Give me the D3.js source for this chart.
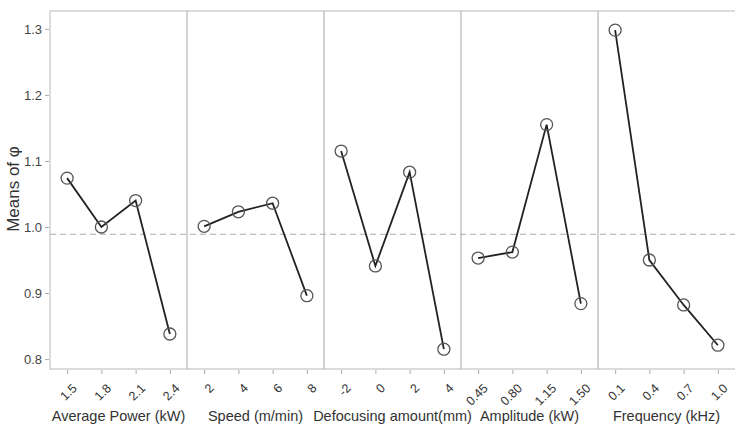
<!DOCTYPE html>
<html>
<head>
<meta charset="utf-8">
<script src="https://cdn.jsdelivr.net/npm/d3@7"></script>
<style>
  body { margin: 0; background: #fff; }
  svg { display: block; font-family: "Liberation Sans", Arial, sans-serif; }
</style>
</head>
<body>
<div id="chart"></div>
<script>
/* data */
var factors = ["Average Power (kW)", "Speed (m/min)", "Defocusing amount(mm)", "Amplitude (kW)", "Frequency (kHz)"];
var powerLevels = ["1.5", "1.8", "2.1", "2.4"];
var speedLevels = ["2", "4", "6", "8"];
var defocusLevels = ["-2", "0", "2", "4"];
var amplitudeLevels = ["0.45", "0.80", "1.15", "1.50"];
var frequencyLevels = ["0.1", "0.4", "0.7", "1.0"];
var powerMeans = [1.074, 1.000, 1.040, 0.838];
var speedMeans = [1.001, 1.023, 1.036, 0.896];
var defocusMeans = [1.115, 0.941, 1.083, 0.815];
var amplitudeMeans = [0.953, 0.962, 1.155, 0.884];
var frequencyMeans = [1.298, 0.950, 0.882, 0.821];
var grandMean = 0.989;
var yTicks = [0.8, 0.9, 1.0, 1.1, 1.2, 1.3];

var levels = [powerLevels, speedLevels, defocusLevels, amplitudeLevels, frequencyLevels];
var means = [powerMeans, speedMeans, defocusMeans, amplitudeMeans, frequencyMeans];

/* constants */
var width = 735, height = 430;
var plotLeft = 50, plotTop = 11, plotRight = 735, plotBottom = 369;

var svg = d3.select("#chart").append("svg")
    .attr("width", width)
    .attr("height", height);

var y = d3.scaleLinear().domain([0.785, 1.327]).range([plotBottom, plotTop]);

// one band per factor
var panel = d3.scaleBand().domain(d3.range(factors.length)).range([plotLeft, plotRight]);

// frame: top, left, bottom
svg.append("path")
    .attr("d", "M" + plotRight + "," + plotTop + "H" + plotLeft + "V" + plotBottom + "H" + plotRight)
    .attr("fill", "none")
    .attr("stroke", "#cfcfcf")
    .attr("stroke-width", 1.5);

// dividers between panels
svg.selectAll("line.divider")
    .data(d3.range(1, factors.length))
    .enter()
    .append("line")
    .attr("class", "divider")
    .attr("x1", function(d){ return panel(d); })
    .attr("x2", function(d){ return panel(d); })
    .attr("y1", plotTop)
    .attr("y2", plotBottom)
    .attr("stroke", "#b5b5b5")
    .attr("stroke-width", 1.2);

// y axis
var yAxis = svg.append("g")
    .attr("transform", "translate(" + (plotLeft - 1) + ",0)")
    .call(d3.axisLeft(y).tickValues(yTicks).tickFormat(d3.format(".1f")).tickSize(4).tickSizeOuter(0));
yAxis.select(".domain").remove();
yAxis.selectAll("line").attr("stroke", "#aaa");
yAxis.selectAll("text")
    .attr("fill", "#444")
    .attr("font-size", 13)
    .attr("x", -7);

svg.append("text")
    .attr("transform", "translate(19,189) rotate(-90)")
    .attr("text-anchor", "middle")
    .attr("font-size", 17)
    .attr("fill", "#333")
    .text("Means of φ");

// grand mean reference line
svg.append("line")
    .attr("x1", plotLeft)
    .attr("x2", plotRight)
    .attr("y1", y(grandMean))
    .attr("y2", y(grandMean))
    .attr("stroke", "#aaa")
    .attr("stroke-width", 1.2)
    .attr("stroke-dasharray", "6,4");

// each factor panel
factors.forEach(function(name, i){
    var x = d3.scalePoint()
        .domain(levels[i])
        .range([panel(i), panel(i) + panel.bandwidth()])
        .padding(0.5);

    var pts = levels[i].map(function(l, j){ return {level: l, value: means[i][j]}; });

    var g = svg.append("g");

    var xAxis = g.append("g")
        .attr("transform", "translate(0," + (plotBottom + 1) + ")")
        .call(d3.axisBottom(x).tickSize(4).tickSizeOuter(0));
    xAxis.select(".domain").remove();
    xAxis.selectAll("line").attr("stroke", "#aaa");
    xAxis.selectAll("text")
        .attr("fill", "#333")
        .attr("font-size", 12.5)
        .attr("text-anchor", "end")
        .attr("dy", 0)
        .attr("transform", "translate(5,14) rotate(-45)");

    g.append("text")
        .attr("x", panel(i) + panel.bandwidth() / 2)
        .attr("y", 421)
        .attr("text-anchor", "middle")
        .attr("font-size", 14.5)
        .attr("fill", "#333")
        .text(name);

    g.append("path")
        .datum(pts)
        .attr("fill", "none")
        .attr("stroke", "#222")
        .attr("stroke-width", 1.8)
        .attr("d", d3.line()
            .x(function(d){ return x(d.level); })
            .y(function(d){ return y(d.value); }));

    g.selectAll("circle")
        .data(pts)
        .enter()
        .append("circle")
        .attr("cx", function(d){ return x(d.level); })
        .attr("cy", function(d){ return y(d.value); })
        .attr("r", 6)
        .attr("fill", "none")
        .attr("stroke", "#555")
        .attr("stroke-width", 1.3);
});
</script>
</body>
</html>
